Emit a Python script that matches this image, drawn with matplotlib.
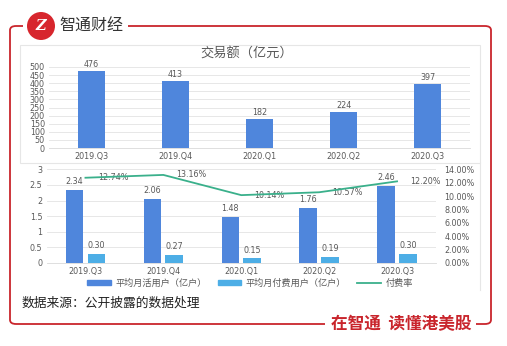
import matplotlib
matplotlib.use("Agg")
import matplotlib.pyplot as plt
from matplotlib.patches import FancyBboxPatch, Rectangle, Ellipse
from matplotlib.lines import Line2D
import numpy as np

plt.rcParams['font.family'] = ['DejaVu Sans', 'Noto Sans CJK SC']

quarters = ["2019.Q3", "2019.Q4", "2020.Q1", "2020.Q2", "2020.Q3"]
gmv = [476, 413, 182, 224, 397]
mau = [2.34, 2.06, 1.48, 1.76, 2.46]
paying = [0.30, 0.27, 0.15, 0.19, 0.30]
pay_rate = [12.74, 13.16, 10.14, 10.57, 12.20]

title_top = "交易额（亿元）"
legend_labels = ["平均月活用户（亿户）", "平均月付费用户（亿户）", "付费率"]
source_text = "数据来源：公开披露的数据处理"
brand = "智通财经"
slogan = "在智通  读懂港美股"

CJK = ['Noto Sans CJK SC', 'DejaVu Sans']

W, H = 507, 346
fig = plt.figure(figsize=(W / 100, H / 100), dpi=100)
fig.patch.set_facecolor("white")

def fx(px):
    return px / W

def fy(py):
    return 1 - py / H

RED = "#C9252C"
DARK = "#4F86DC"
LIGHT = "#4DAEE6"
GREEN = "#3AB08B"
GRAY = "#595959"
GRID = "#E3E3E3"
PANEL = "#E6E6E6"
FS = 5.8

# Red rounded frame
frame = FancyBboxPatch((fx(10), fy(324)), fx(491) - fx(10), fy(26) - fy(324),
                       boxstyle="round,pad=0,rounding_size=0.012",
                       transform=fig.transFigure, fill=False,
                       edgecolor=RED, linewidth=1.3, zorder=1)
fig.patches.append(frame)

# White covers for gaps in the frame
fig.patches.append(Rectangle((fx(23), fy(34)), fx(128) - fx(23), fy(18) - fy(34),
                             transform=fig.transFigure, facecolor="white",
                             edgecolor="none", zorder=2))
fig.patches.append(Rectangle((fx(325), fy(332)), fx(476) - fx(325), fy(316) - fy(332),
                             transform=fig.transFigure, facecolor="white",
                             edgecolor="none", zorder=2))

# Logo
fig.patches.append(Ellipse((fx(41), fy(26)), 28 / W, 28 / H, transform=fig.transFigure,
                           facecolor="#D7262D", edgecolor="none", zorder=3))
fig.text(fx(41), fy(26.5), "Z", color="white", fontsize=10.5, fontweight="bold",
         style="italic", ha="center", va="center", zorder=4, family="DejaVu Serif")
fig.text(fx(59), fy(26), brand, color="#333333", fontsize=11.5,
         ha="left", va="center", zorder=4, family=CJK)

# Slogan
fig.text(fx(401), fy(324), slogan, color=RED, fontsize=12, fontweight="bold",
         ha="center", va="center", zorder=4, family=CJK)

# Source
fig.text(fx(22), fy(303), source_text, color="#222222", fontsize=9.2,
         ha="left", va="center", zorder=4, family=CJK)

# Gray panels
fig.patches.append(Rectangle((fx(20), fy(163)), fx(480) - fx(20), fy(45) - fy(163),
                             transform=fig.transFigure, fill=False,
                             edgecolor=PANEL, linewidth=0.8, zorder=1))
fig.add_artist(Line2D([fx(480), fx(480)], [fy(163), fy(290)], transform=fig.transFigure,
                      color=PANEL, linewidth=0.8))

# Top chart
ax1 = fig.add_axes([fx(49), fy(148), fx(470) - fx(49), fy(67) - fy(148)])
x = np.arange(len(quarters))
ax1.bar(x, gmv, width=0.32, color=DARK, zorder=3)
for xi, v in zip(x, gmv):
    ax1.text(xi, v + 12, f"{v}", ha="center", va="bottom", fontsize=FS, color=GRAY)
ax1.set_xlim(-0.5, len(quarters) - 0.5)
ax1.set_ylim(0, 500)
ax1.set_yticks(np.arange(0, 501, 50))
ax1.set_xticks(x)
ax1.set_xticklabels(quarters)
ax1.tick_params(axis="both", length=0, labelsize=FS, labelcolor=GRAY, pad=3)
ax1.grid(axis="y", color=GRID, linewidth=0.6, zorder=0)
for s in ["top", "right", "left"]:
    ax1.spines[s].set_visible(False)
ax1.spines["bottom"].set_color("#D9D9D9")
ax1.spines["bottom"].set_linewidth(0.6)
fig.text(fx(247), fy(54), title_top, ha="center", va="center", fontsize=9.5, color=GRAY,
         family=CJK)

# Bottom chart
ax2 = fig.add_axes([fx(46.5), fy(263), fx(436) - fx(46.5), fy(169.3) - fy(263)])
bw = 0.225
off = 0.14
ax2.bar(x - off, mau, width=bw, color=DARK, zorder=3)
ax2.bar(x + off, paying, width=bw, color=LIGHT, zorder=3)
for xi, v in zip(x, mau):
    ax2.text(xi - off, v + 0.12, f"{v:.2f}", ha="center", va="bottom", fontsize=FS, color=GRAY)
for xi, v in zip(x, paying):
    ax2.text(xi + off, v + 0.12, f"{v:.2f}", ha="center", va="bottom", fontsize=FS, color=GRAY)
ax2.set_xlim(-0.5, len(quarters) - 0.5)
ax2.set_ylim(0, 3)
ax2.set_yticks(np.arange(0, 3.01, 0.5))
ax2.set_yticklabels(["0", "0.5", "1", "1.5", "2", "2.5", "3"])
ax2.set_xticks(x)
ax2.set_xticklabels(quarters)
ax2.tick_params(axis="both", length=0, labelsize=FS, labelcolor=GRAY, pad=3)
ax2.grid(axis="y", color=GRID, linewidth=0.6, zorder=0)
for s in ["top", "right", "left"]:
    ax2.spines[s].set_visible(False)
ax2.spines["bottom"].set_color("#D9D9D9")
ax2.spines["bottom"].set_linewidth(0.6)

ax3 = ax2.twinx()
ax3.plot(x, pay_rate, color=GREEN, linewidth=1.3, zorder=4)
ax3.set_ylim(0, 14)
ax3.set_yticks(np.arange(0, 14.01, 2))
ax3.set_yticklabels([f"{v:.2f}%" for v in np.arange(0, 14.01, 2)])
ax3.tick_params(axis="y", length=0, labelsize=FS, labelcolor=GRAY, pad=6)
for s in ["top", "right", "left", "bottom"]:
    ax3.spines[s].set_visible(False)
for xi, v in zip(x, pay_rate):
    ax3.text(xi + 0.36, v, f"{v:.2f}%", ha="center", va="center", fontsize=FS, color=GRAY)

# Legend
handles = [Rectangle((0, 0), 1, 1, color=DARK), Rectangle((0, 0), 1, 1, color=LIGHT),
           Line2D([0], [0], color=GREEN, linewidth=1.3)]
fig.legend(handles, legend_labels, loc="center", bbox_to_anchor=(fx(250), fy(283)),
           ncol=3, frameon=False, labelcolor=GRAY,
           prop={'family': CJK, 'size': 6.6},
           handlelength=2.6, handleheight=0.5, columnspacing=1.2, handletextpad=0.5)

fig.savefig("out.png", dpi=100, facecolor="white")
